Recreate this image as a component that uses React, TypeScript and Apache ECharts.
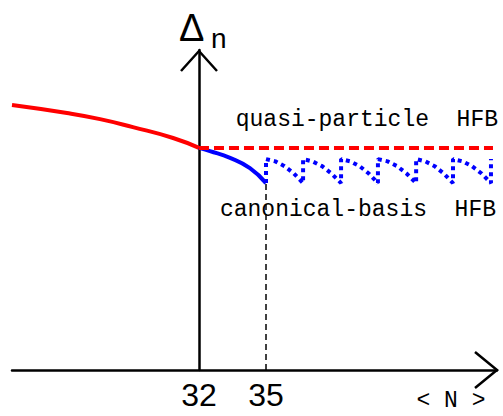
import React, { useEffect, useRef } from "react";
import * as echarts from "echarts";

// x positions in units of <N>, y in arbitrary units of Δn
const xTickLabels = [32, 35];
const redCurve: [number, number][] = [
  [23.63, 8.28], [26.09, 8.03], [27.57, 7.84], [29.04, 7.59], [30.84, 7.25], [32, 6.94],
];
const quasiHFB: [number, number][] = [
  [32, 6.94], [45.16, 6.94],
];
const blueCurve: [number, number][] = [
  [32, 6.94], [32.49, 6.84], [33.39, 6.63], [34.28, 6.31], [35, 5.84],
];
const canonicalTeeth: [number, number][] = [
  [35, 5.84], [35, 6.59], [35.42, 6.52], [35.83, 6.37], [36.25, 6.14], [36.66, 5.84],
  [36.66, 6.59], [37.08, 6.52], [37.51, 6.37], [37.93, 6.14], [38.36, 5.84],
  [38.36, 6.59], [38.77, 6.52], [39.19, 6.37], [39.6, 6.14], [40.01, 5.84],
  [40.01, 6.59], [40.44, 6.52], [40.87, 6.37], [41.29, 6.14], [41.72, 5.84],
  [41.72, 6.59], [42.13, 6.52], [42.55, 6.37], [42.96, 6.14], [43.37, 5.84],
  [43.37, 6.59], [43.8, 6.52], [44.22, 6.37], [44.65, 6.14], [45.07, 5.84],
  [45.07, 6.59],
];
const guideLine: [number, number][] = [
  [35, 0], [35, 5.84],
];

export default function App() {
  const ref = useRef<HTMLDivElement>(null);
  useEffect(() => {
    if (!ref.current) return;
    const chart = echarts.init(ref.current, null, { renderer: "svg" });
    const black = "#000000";
    const textStyle = (text: string, size: number, family: string, align: string, valign: string) => ({
      text,
      fontSize: size,
      fontFamily: family,
      fill: black,
      align,
      verticalAlign: valign,
      textAlign: align,
      textVerticalAlign: valign,
    });
    chart.setOption({
      animation: false,
      backgroundColor: "#ffffff",
      grid: { left: 12, right: 6, top: 50, bottom: 46, containLabel: false },
      xAxis: {
        type: "value",
        min: 23.63,
        max: 45.34,
        axisLine: { show: true, lineStyle: { color: black, width: 2.5 } },
        axisTick: { show: false },
        splitLine: { show: false },
        axisLabel: {
          customValues: xTickLabels,
          color: black,
          fontSize: 32,
          fontFamily: "Liberation Sans",
          margin: 9,
        },
      },
      yAxis: {
        type: "value",
        min: 0,
        max: 10,
        offset: -187,
        axisLine: { show: true, lineStyle: { color: black, width: 2.5 } },
        axisTick: { show: false },
        axisLabel: { show: false },
        splitLine: { show: false },
      },
      series: [
        {
          type: "line",
          data: guideLine,
          symbol: "none",
          lineStyle: { color: black, width: 1.5, type: [6, 4] },
          z: 1,
        },
        {
          type: "line",
          data: redCurve,
          symbol: "none",
          smooth: true,
          lineStyle: { color: "#ff0000", width: 4 },
        },
        {
          type: "line",
          data: blueCurve,
          symbol: "none",
          smooth: true,
          lineStyle: { color: "#0000ff", width: 4 },
        },
        {
          type: "line",
          data: canonicalTeeth,
          symbol: "none",
          lineStyle: { color: "#0000ff", width: 4, type: [4, 4], cap: "butt" },
        },
        {
          type: "line",
          data: quasiHFB,
          symbol: "none",
          lineStyle: { color: "#ff0000", width: 4, type: [10, 5], cap: "butt" },
        },
      ],
      graphic: [
        {
          type: "polyline",
          shape: { points: [[475, 352], [497, 370], [475, 388]] },
          style: { stroke: black, lineWidth: 2.5, fill: "none" },
        },
        {
          type: "polyline",
          shape: { points: [[181, 71], [199, 51], [217, 71]] },
          style: { stroke: black, lineWidth: 2.5, fill: "none" },
        },
        { type: "text", x: 179, y: 28, style: textStyle("Δ", 38, "Liberation Sans", "left", "middle") },
        { type: "text", x: 211, y: 38, style: textStyle("n", 28, "Liberation Sans", "left", "middle") },
        { type: "text", x: 498, y: 120, style: textStyle("quasi-particle  HFB", 23, "Liberation Mono", "right", "middle") },
        { type: "text", x: 496, y: 210, style: textStyle("canonical-basis  HFB", 23, "Liberation Mono", "right", "middle") },
        { type: "text", x: 451, y: 401, style: textStyle("< N >", 23, "Liberation Mono", "center", "middle") },
      ],
    });
    return () => chart.dispose();
  }, []);
  return (
    <div
      ref={ref}
      style={{ position: "fixed", left: 0, top: 0, width: 503, height: 416 }}
    />
  );
}
